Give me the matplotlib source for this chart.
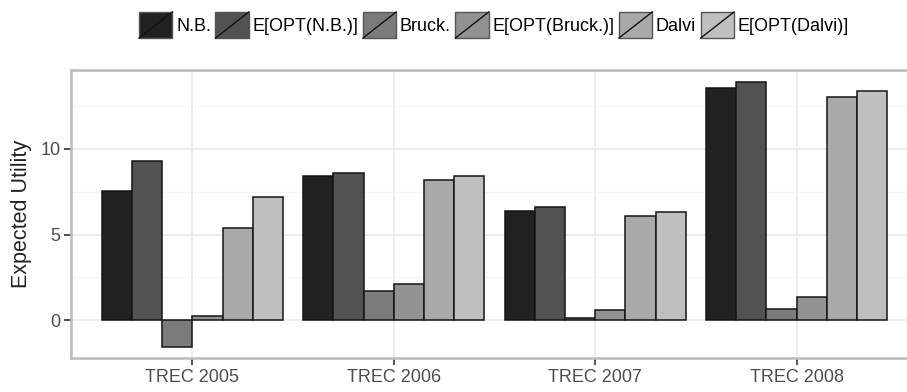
import matplotlib
matplotlib.use("Agg")
import matplotlib.pyplot as plt
import numpy as np
from matplotlib.legend_handler import HandlerPatch
from matplotlib.patches import Rectangle
from matplotlib.lines import Line2D

# data
groups = ["TREC 2005", "TREC 2006", "TREC 2007", "TREC 2008"]
methods = ["N.B.", "E[OPT(N.B.)]", "Bruck.", "E[OPT(Bruck.)]", "Dalvi", "E[OPT(Dalvi)]"]
nb = [7.55, 8.44, 6.40, 13.53]
opt_nb = [9.30, 8.60, 6.60, 13.88]
bruck = [-1.55, 1.71, 0.15, 0.66]
opt_bruck = [0.23, 2.14, 0.58, 1.35]
dalvi = [5.40, 8.19, 6.10, 13.00]
opt_dalvi = [7.17, 8.42, 6.30, 13.37]
values = [nb, opt_nb, bruck, opt_bruck, dalvi, opt_dalvi]
fills = ["#212121", "#525252", "#7b7b7b", "#929292", "#a9a9a9", "#bfbfbf"]

plt.rcParams['font.family'] = ['Liberation Sans', 'DejaVu Sans']


class SlashBox(HandlerPatch):
    # ggplot style key: filled box with a diagonal line
    def create_artists(self, legend, orig, xd, yd, w, h, fs, trans):
        r = Rectangle((-xd, -yd), w, h, facecolor=orig.get_facecolor(),
                      edgecolor="#555555", linewidth=1.0, transform=trans)
        ln = Line2D([-xd, -xd + w], [-yd, -yd + h], color="#111111",
                    linewidth=1.0, transform=trans)
        return [r, ln]


fig = plt.figure(figsize=(9.07, 3.92), dpi=100)
ax = fig.add_axes([71.4 / 907, 34 / 392, 846.2 / 907, 288 / 392])

x = np.arange(1, len(groups) + 1)
bw = 0.9 / len(methods)
handles = []
for i, (vals, col) in enumerate(zip(values, fills)):
    pos = x - 0.45 + bw * (i + 0.5)
    b = ax.bar(pos, vals, width=bw, color=col, edgecolor="#151515",
               linewidth=1.1, zorder=3, label=methods[i])
    handles.append(Rectangle((0, 0), 1, 1, facecolor=col))

ax.set_xlim(0.4, 4.6)
ax.set_ylim(-2.2, 14.6)
ax.set_xticks(x)
ax.set_xticklabels(groups)
ax.set_yticks([0, 5, 10])
ax.set_yticks([2.5, 7.5, 12.5], minor=True)
ax.grid(True, which="major", color="#ebebeb", linewidth=1.3, zorder=0)
ax.grid(True, which="minor", axis="y", color="#f5f5f5", linewidth=1.0, zorder=0)
ax.tick_params(axis="both", which="major", length=5, width=1.2, color="#333333",
               labelsize=13, labelcolor="#4d4d4d", pad=3)
ax.tick_params(axis="y", which="minor", length=0)
for s in ax.spines.values():
    s.set_color("#bbbbbb")
    s.set_linewidth(1.8)
ax.set_ylabel("Expected Utility", fontsize=15.5, color="#222222", labelpad=6)

fig.legend(handles, methods, handler_map={Rectangle: SlashBox()},
           loc="center", bbox_to_anchor=(494 / 907, 1 - 25 / 392), ncol=6,
           frameon=False, fontsize=13, handlelength=1.85, handleheight=1.85,
           handletextpad=0.2, columnspacing=0.25, borderaxespad=0)

fig.savefig("out.png", dpi=100)
